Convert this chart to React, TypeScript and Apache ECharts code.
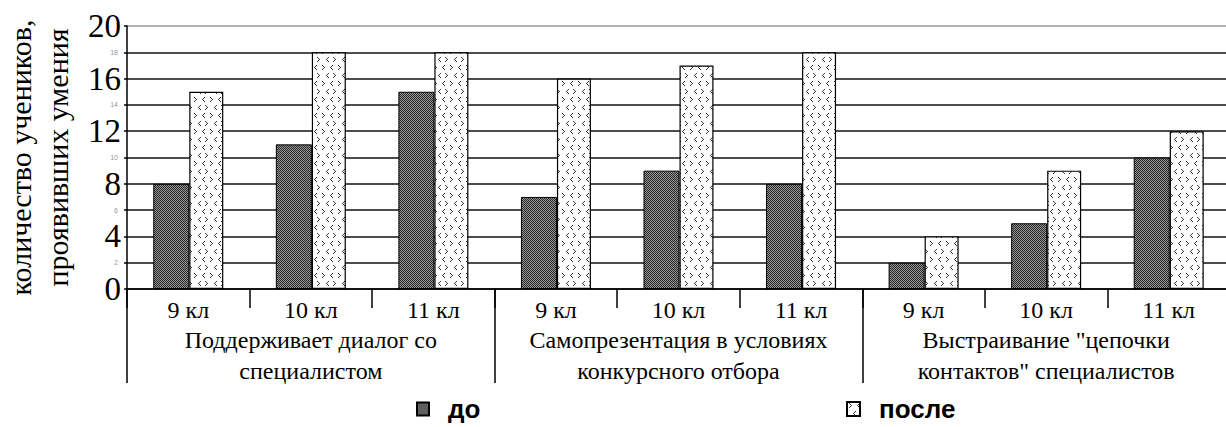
import React, { useEffect, useRef } from "react";
import * as echarts from "echarts";

// ---- data ----
const classLabels = ["9 кл", "10 кл", "11 кл", "9 кл", "10 кл", "11 кл", "9 кл", "10 кл", "11 кл"];
const groupLabels = [
  "Поддерживает диалог со\nспециалистом",
  "Самопрезентация в условиях\nконкурсного отбора",
  "Выстраивание \"цепочки\nконтактов\" специалистов",
];
const seriesNames = ["до", "после"];
const beforeValues = [8, 11, 15, 7, 9, 8, 2, 5, 10];
const afterValues = [15, 18, 18, 16, 17, 18, 4, 9, 12];
const yMin = 0;
const yMax = 20;
const yInterval = 2;
const yAxisTitle = "количество учеников,\nпроявивших умения";

const SERIF = "Liberation Serif, DejaVu Serif, serif";
const SANS = "Liberation Sans, DejaVu Sans, sans-serif";

function makeBeforePattern(): HTMLCanvasElement {
  const c = document.createElement("canvas");
  c.width = 4;
  c.height = 4;
  const ctx = c.getContext("2d")!;
  for (let y = 0; y < 4; y++) {
    for (let x = 0; x < 4; x++) {
      ctx.fillStyle = (x + y) % 2 === 0 ? "#2a2a2a" : "#949494";
      ctx.fillRect(x, y, 1, 1);
    }
  }
  return c;
}

function makeAfterPattern(): HTMLCanvasElement {
  const c = document.createElement("canvas");
  c.width = 16;
  c.height = 16;
  const ctx = c.getContext("2d")!;
  ctx.fillStyle = "#ffffff";
  ctx.fillRect(0, 0, 16, 16);
  ctx.fillStyle = "#3a3a3a";
  const right = [[0, 0], [1, 1], [2, 2], [1, 3], [0, 4]];
  const left = [[2, 0], [1, 1], [0, 2], [1, 3], [2, 4]];
  const put = (pts: number[][], ox: number, oy: number) => {
    pts.forEach(([px, py]) => ctx.fillRect(ox + px, oy + py, 1, 1));
  };
  put(right, 2, 1);
  put(left, 10, 1);
  put(left, 6, 9);
  put(right, 13, 9);
  return c;
}

export default function App() {
  const ref = useRef<HTMLDivElement>(null);

  useEffect(() => {
    if (!ref.current) return;
    const chart = echarts.init(ref.current, undefined, { renderer: "svg" });
    const beforeFill = { image: makeBeforePattern(), repeat: "repeat" };
    const afterFill = { image: makeAfterPattern(), repeat: "repeat" };
    const splitCount = (yMax - yMin) / yInterval + 1;
    const splitColors = Array.from({ length: splitCount }, (_, i) =>
      i === splitCount - 1 ? "#9a9a9a" : "#111111"
    );
    const legendText = {
      fontFamily: SANS,
      fontSize: 26,
      fontWeight: "bold" as const,
      color: "#000",
      padding: [0, 0, 0, 14],
    };

    const option: any = {
      animation: false,
      backgroundColor: "#ffffff",
      textStyle: { fontFamily: SERIF },
      grid: {
        left: 127,
        right: -4,
        top: 26,
        bottom: 138,
        containLabel: false,
        outerBoundsMode: "none",
      },
      legend: [
        {
          data: [seriesNames[0]],
          left: 416,
          top: 396,
          padding: 0,
          icon: "rect",
          itemWidth: 12,
          itemHeight: 13,
          textStyle: legendText,
        },
        {
          data: [seriesNames[1]],
          left: 846,
          top: 396,
          padding: 0,
          icon: "rect",
          itemWidth: 13,
          itemHeight: 14,
          textStyle: legendText,
        },
      ],
      xAxis: [
        {
          type: "category",
          data: classLabels,
          position: "bottom",
          axisLine: { show: true, lineStyle: { color: "#000", width: 1.5 } },
          axisTick: { show: true, length: 19, lineStyle: { color: "#000", width: 1.5 } },
          axisLabel: {
            interval: 0,
            color: "#000",
            fontFamily: SERIF,
            fontSize: 24,
            margin: 9,
          },
          splitLine: { show: false },
        },
        {
          type: "category",
          data: groupLabels,
          position: "bottom",
          axisLine: { show: false },
          axisTick: { show: true, length: 94, lineStyle: { color: "#000", width: 1.5 } },
          axisLabel: {
            interval: 0,
            color: "#000",
            fontFamily: SERIF,
            fontSize: 24,
            lineHeight: 31,
            margin: 35,
          },
          splitLine: { show: false },
        },
      ],
      yAxis: {
        type: "value",
        min: yMin,
        max: yMax,
        interval: yInterval,
        name: yAxisTitle,
        nameLocation: "middle",
        nameRotate: 90,
        nameGap: 51,
        nameTextStyle: {
          fontFamily: SERIF,
          fontSize: 30,
          lineHeight: 37,
          color: "#000",
        },
        axisLine: { show: true, lineStyle: { color: "#000", width: 1.5 } },
        axisTick: { show: true, length: 3, lineStyle: { color: "#000", width: 1.5 } },
        axisLabel: {
          margin: 6,
          formatter: (v: number) => (v % 4 === 0 ? `{big|${v}}` : `{small|${v}}`),
          rich: {
            big: { fontFamily: SERIF, fontSize: 33, color: "#000" },
            small: { fontFamily: SANS, fontSize: 7, color: "#999", padding: [0, 3, 0, 0] },
          },
        },
        splitLine: { show: true, lineStyle: { color: splitColors, width: 1.5 } },
      },
      series: [
        {
          type: "bar",
          name: seriesNames[0],
          data: beforeValues,
          xAxisIndex: 0,
          barWidth: 36,
          barGap: "0%",
          itemStyle: { color: beforeFill, borderColor: "#000", borderWidth: 1 },
        },
        {
          type: "bar",
          name: seriesNames[1],
          data: afterValues,
          xAxisIndex: 0,
          barWidth: 34,
          barGap: "0%",
          itemStyle: { color: afterFill, borderColor: "#000", borderWidth: 1.2 },
        },
      ],
    };
    chart.setOption(option);
    return () => chart.dispose();
  }, []);

  return (
    <div
      ref={ref}
      style={{ position: "fixed", left: 0, top: 0, width: 1226, height: 427, background: "#fff" }}
    />
  );
}
